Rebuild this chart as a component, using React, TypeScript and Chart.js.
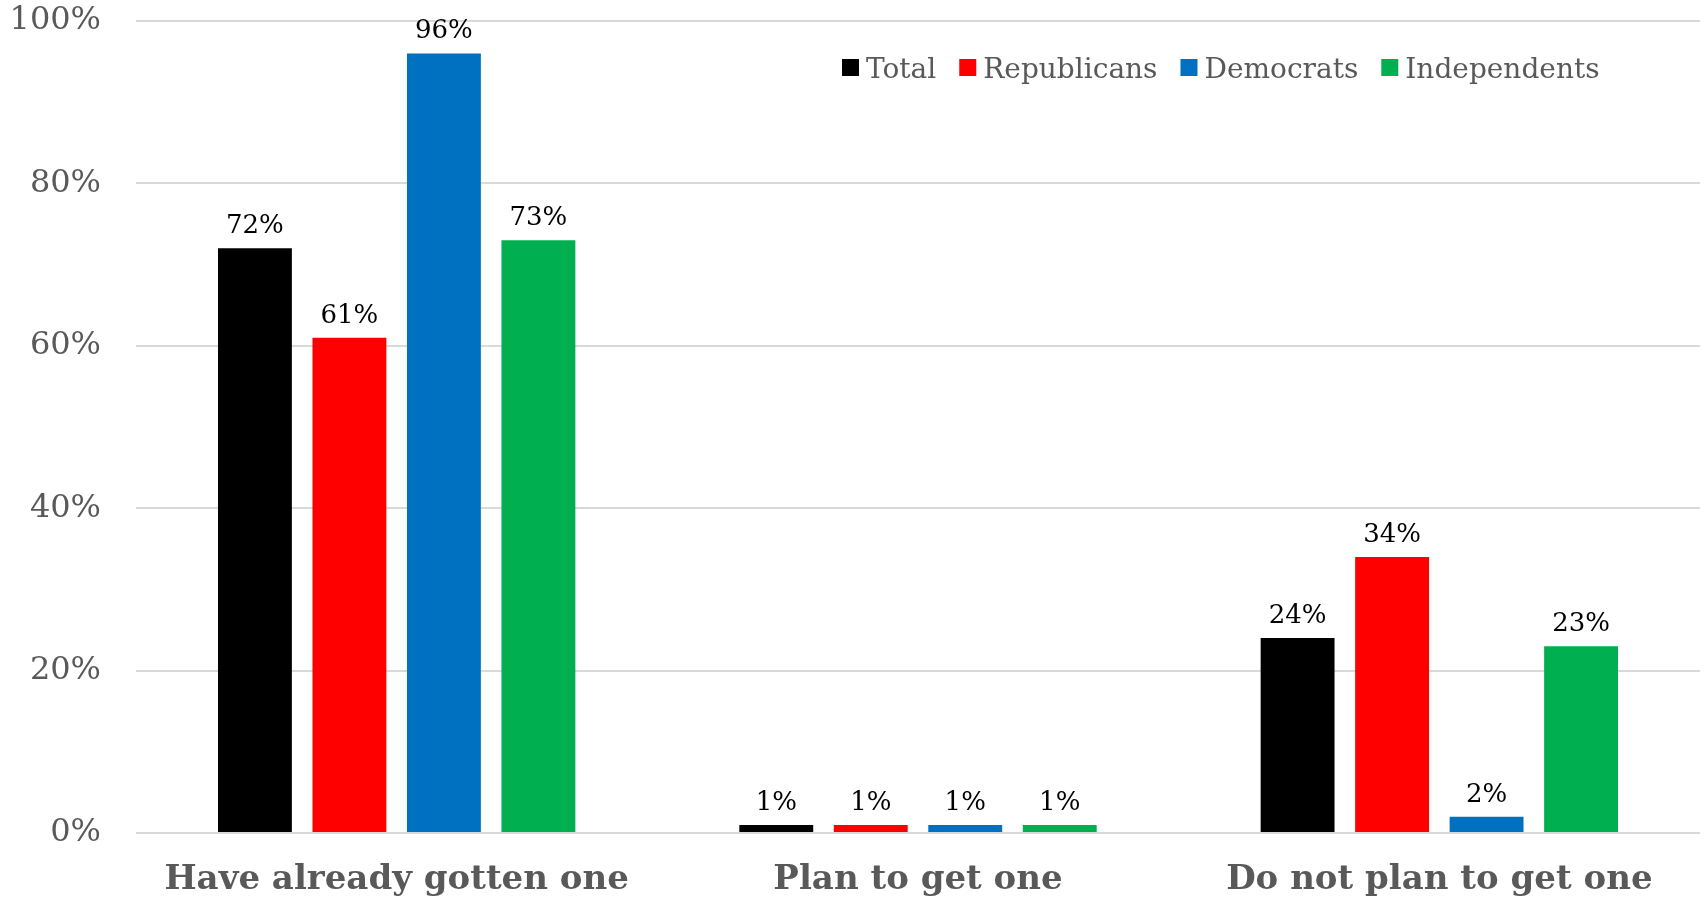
import React, { useEffect, useRef } from "react";
import { Chart, registerables } from "chart.js";

Chart.register(...registerables);

const categories = ["Have already gotten one", "Plan to get one", "Do not plan to get one"];
const seriesNames = ["Total", "Republicans", "Democrats", "Independents"];
const totalValues = [72, 1, 24];
const republicanValues = [61, 1, 34];
const democratValues = [96, 1, 2];
const independentValues = [73, 1, 23];
const seriesColors = ["#000000", "#FF0000", "#0070C0", "#00B050"];
const yTickValues = [0, 20, 40, 60, 80, 100];

const FONT = "'DejaVu Serif', serif";
const GRAY = "#595959";

const dataLabelPlugin = {
  id: "dataLabels",
  afterDatasetsDraw(chart: any) {
    const ctx = chart.ctx;
    ctx.save();
    ctx.font = `26px ${FONT}`;
    ctx.fillStyle = "#000000";
    ctx.textAlign = "center";
    ctx.textBaseline = "alphabetic";
    chart.data.datasets.forEach((ds: any, i: number) => {
      const meta = chart.getDatasetMeta(i);
      meta.data.forEach((el: any, j: number) => {
        ctx.fillText(`${ds.data[j]}%`, el.x, el.y - 15);
      });
    });
    ctx.restore();
  },
};

const legendPlugin = {
  id: "customLegend",
  afterDraw(chart: any) {
    const ctx = chart.ctx;
    ctx.save();
    ctx.font = `28px ${FONT}`;
    ctx.textBaseline = "alphabetic";
    ctx.textAlign = "left";
    let x = 842;
    chart.data.datasets.forEach((ds: any) => {
      ctx.fillStyle = ds.backgroundColor;
      ctx.fillRect(x, 59, 17, 17);
      x += 17 + 7;
      ctx.fillStyle = GRAY;
      ctx.fillText(ds.label, x, 78);
      x += ctx.measureText(ds.label).width + 23;
    });
    ctx.restore();
  },
};

export default function App() {
  const canvasRef = useRef<HTMLCanvasElement | null>(null);

  useEffect(() => {
    const canvas = canvasRef.current;
    if (!canvas) return;
    const seriesValues = [totalValues, republicanValues, democratValues, independentValues];
    const chart = new Chart(canvas, {
      type: "bar",
      data: {
        labels: categories,
        datasets: seriesNames.map((name, i) => ({
          label: name,
          data: seriesValues[i],
          backgroundColor: seriesColors[i],
          borderWidth: 0,
          categoryPercentage: 0.725,
          barPercentage: 0.782,
        })),
      },
      options: {
        responsive: false,
        animation: false,
        devicePixelRatio: 1,
        layout: { padding: { top: 21, right: 4, left: 0, bottom: 0 } },
        plugins: {
          legend: { display: false },
          tooltip: { enabled: false },
        },
        scales: {
          x: {
            grid: { display: false, drawTicks: false },
            border: { display: false },
            ticks: {
              color: GRAY,
              font: { family: FONT, size: 34, weight: "bold" },
              padding: 27,
              maxRotation: 0,
              autoSkip: false,
            },
            afterFit: (s: any) => {
              s.height = 66;
              s.paddingLeft = 0;
              s.paddingRight = 0;
            },
          },
          y: {
            min: 0,
            max: 100,
            afterBuildTicks: (s: any) => {
              s.ticks = yTickValues.map((v) => ({ value: v }));
            },
            grid: { color: "#D9D9D9", lineWidth: 2, drawTicks: false },
            border: { display: false },
            ticks: {
              color: GRAY,
              font: { family: FONT, size: 32 },
              padding: 35,
              callback: (v: any) => `${v}%`,
            },
            afterFit: (s: any) => {
              s.width = 136;
              s.paddingTop = 0;
              s.paddingBottom = 0;
            },
          },
        },
      },
      plugins: [dataLabelPlugin, legendPlugin],
    });
    return () => chart.destroy();
  }, []);

  return (
    <div style={{ position: "absolute", left: 0, top: 0, width: 1704, height: 899, background: "#ffffff" }}>
      <canvas ref={canvasRef} width={1704} height={899} />
    </div>
  );
}
